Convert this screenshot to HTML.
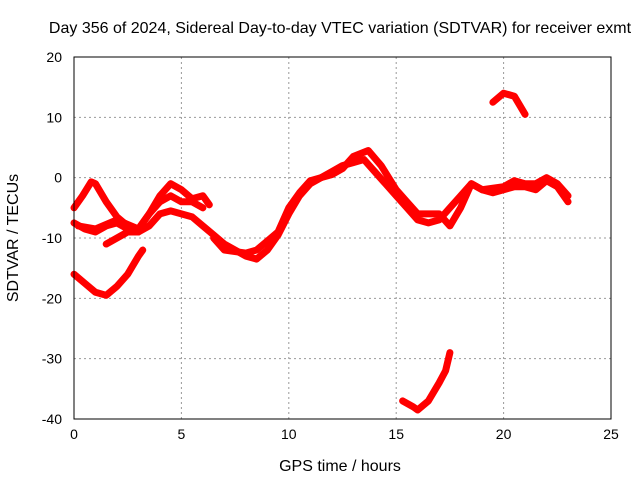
<!DOCTYPE html>
<html><head><meta charset="utf-8"><style>
body{margin:0;background:#fff}
svg{display:block;font-family:"Liberation Sans",sans-serif}
</style></head><body>
<svg id="chart" width="640" height="480">
<text x="340" y="33" font-size="16" text-anchor="middle">Day 356 of 2024, Sidereal Day-to-day VTEC variation (SDTVAR) for receiver exmt</text>
<text x="340" y="471" font-size="16" text-anchor="middle">GPS time / hours</text>
<text transform="translate(18,238) rotate(-90)" font-size="16" text-anchor="middle">SDTVAR / TECUs</text>
<g id="grid"></g><g id="marks"></g>
<rect x="74" y="57" width="537" height="362" fill="none" stroke="#000" stroke-width="1"/>
</svg>
<script>
const xTicks=[0,5,10,15,20,25];
const yTicks=[20,10,0,-10,-20,-30,-40];
const trackA=[[0,-5],[0.4,-3],[0.8,-0.7],[1.0,-1],[1.5,-4],[2,-6.5],[2.5,-8],[3,-9]];
const trackB=[[0,-7.5],[0.5,-8.5],[1,-9],[1.5,-8],[2,-7.5],[2.5,-8.5],[3,-8.5],[3.5,-6],[4,-3],[4.5,-1],[5,-2],[5.5,-3.5],[6,-3],[6.3,-4.5]];
const trackC=[[0.2,-8],[1,-8.5],[2,-7],[3,-8.5],[3.5,-6],[4,-4],[4.5,-3],[5,-4],[5.5,-4],[6,-5]];
const trackD=[[1.5,-11],[2.5,-9],[3,-9],[3.5,-8],[4,-6],[4.5,-5.5],[5,-6],[5.5,-6.5],[6,-8],[6.5,-9.5],[7,-11],[7.5,-12],[8,-13],[8.5,-13.5],[9,-12],[9.5,-9.5],[10,-6],[10.5,-3],[11,-1],[11.5,0],[12,1],[12.5,2],[13,2.5],[13.5,3],[14,1],[14.5,-1],[15,-3],[15.5,-5],[16,-7],[16.5,-7.5],[17,-7],[17.5,-5],[18,-3],[18.5,-1],[19,-2],[19.5,-2.5],[20,-2],[20.5,-1.5],[21,-1.5],[21.5,-2],[22,-0.5],[22.5,-1.5],[23,-4]];
const trackE=[[6.5,-10],[7,-12],[8,-12.5],[8.5,-12],[9,-10.5],[9.5,-9],[10,-5],[10.5,-2.5],[11,-0.5],[12,0.5],[12.5,1.5],[13,3.5],[13.7,4.5],[14.3,2],[15,-2],[15.5,-4],[16,-6],[16.5,-6],[17,-6],[17.5,-8],[18,-5],[18.5,-1],[19,-2],[20,-1.5],[20.5,-0.5],[21,-1],[21.5,-1],[22,0],[22.5,-1],[23,-3]];
const trackF=[[0,-16],[0.5,-17.5],[1,-19],[1.5,-19.5],[2,-18],[2.5,-16],[3,-13],[3.2,-12]];
const trackG=[[15.3,-37],[15.8,-38],[16,-38.5],[16.5,-37],[17,-34],[17.3,-32],[17.5,-29]];
const trackH=[[19.5,12.5],[20,14],[20.5,13.5],[21,10.5]];
const tracks=[trackA,trackB,trackC,trackD,trackE,trackF,trackG,trackH];
const X0=74,X1=611,Y0=419,Y1=57;
const sx=v=>X0+(v-0)/25*(X1-X0);
const sy=v=>Y0-(v+40)/60*(Y0-Y1);
const NS="http://www.w3.org/2000/svg";
const grid=document.getElementById('grid'),marks=document.getElementById('marks');
function mk(t,a,p){const e=document.createElementNS(NS,t);for(const k in a)e.setAttribute(k,a[k]);p.appendChild(e);return e;}
xTicks.forEach(v=>{
 const x=sx(v);
 if(v>0&&v<25){const l=mk('line',{x1:x,x2:x,y1:Y1,y2:Y0,stroke:'#999','stroke-dasharray':'2,3'},grid);
 
 }
 const t=mk('text',{x:x,y:Y0+20,'font-size':14,'text-anchor':'middle'},grid);t.textContent=v;
 
 
});
yTicks.forEach(v=>{
 const y=sy(v);
 if(v>-40&&v<20){const l=mk('line',{x1:X0,x2:X1,y1:y,y2:y,stroke:'#999','stroke-dasharray':'2,3'},grid);
 
 }
 const t=mk('text',{x:X0-12,y:y+5,'font-size':14,'text-anchor':'end'},grid);t.textContent=v;
 
 
});
tracks.forEach(tr=>{
 const p=mk('polyline',{points:tr.map(d=>sx(d[0])+','+sy(d[1])).join(' '),fill:'none',stroke:'#f00','stroke-width':7,'stroke-linejoin':'round','stroke-linecap':'round'},marks);
 
 
});
</script>
</body></html>
